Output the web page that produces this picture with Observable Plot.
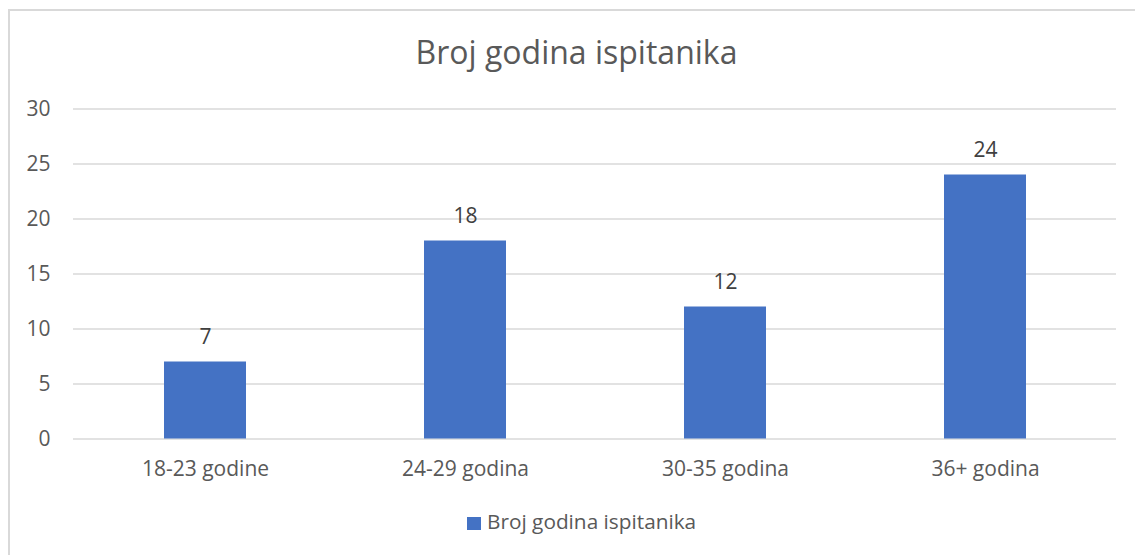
<!DOCTYPE html>
<html>
<head>
<meta charset="utf-8">
<script src="https://cdn.jsdelivr.net/npm/d3@7"></script>
<script src="https://cdn.jsdelivr.net/npm/@observablehq/plot@0.6"></script>
<style>
  html, body { margin: 0; padding: 0; background: #fff; overflow: hidden; }
  #wrap { position: relative; width: 1135px; height: 555px; font-family: "Open Sans", sans-serif; }
  #frame { position: absolute; left: 8px; top: 9px; width: 1300px; height: 700px;
           border-left: 2px solid #d9d9d9; border-top: 2px solid #d9d9d9; }
  #title { position: absolute; top: 35.5px; left: 576.5px; transform: translateX(-50%);
           font-size: 32px; line-height: 32px; color: #595959; white-space: nowrap; }
  #chart { position: absolute; left: 0; top: 90px; }
  #legend { position: absolute; left: 467px; top: 510.5px; font-size: 20.8px; line-height: 20.8px;
            color: #595959; white-space: nowrap; }
  #legend .sw { position: absolute; left: 0; top: 6.5px; width: 14px; height: 13px; }
  #legend .lt { position: absolute; left: 20px; top: 0; }
</style>
</head>
<body>
<div id="wrap">
  <div id="frame"></div>
  <div id="title"></div>
  <div id="chart"></div>
  <div id="legend"><span class="sw"></span><span class="lt"></span></div>
</div>
<script>
const title = "Broj godina ispitanika";
const seriesName = "Broj godina ispitanika";
const categories = ["18-23 godine", "24-29 godina", "30-35 godina", "36+ godina"];
const values = [7, 18, 12, 24];
const yTicks = [0, 5, 10, 15, 20, 25, 30];
const barColor = "#4472C4";

const data = categories.map((c, i) => ({category: c, value: values[i]}));

document.getElementById("title").textContent = title;
document.querySelector("#legend .lt").textContent = seriesName;
document.querySelector("#legend .sw").style.background = barColor;

const chart = Plot.plot({
  width: 1135,
  height: 400,
  marginTop: 18.5,
  marginBottom: 51.5,
  marginLeft: 73,
  marginRight: 19,
  style: {fontFamily: "Open Sans, sans-serif", fontSize: "21px", color: "#595959", background: "transparent"},
  x: {domain: categories, paddingInner: 0.686, paddingOuter: 0.343, label: null},
  y: {domain: [0, 30], label: null},
  marks: [
    Plot.gridY(yTicks, {stroke: "#d9d9d9", strokeOpacity: 1, strokeWidth: 1.3}),
    Plot.axisY({ticks: yTicks, tickSize: 0, tickPadding: 23, label: null, fontSize: 21}),
    Plot.axisX({tickSize: 0, tickPadding: 22.5, label: null, fontSize: 21}),
    Plot.barY(data, {x: "category", y: "value", fill: barColor}),
    Plot.text(data, {x: "category", y: "value", text: d => String(d.value), dy: -24.5,
                     lineAnchor: "middle", fill: "#404040", fontSize: 21})
  ]
});
document.getElementById("chart").appendChild(chart);
</script>
</body>
</html>
